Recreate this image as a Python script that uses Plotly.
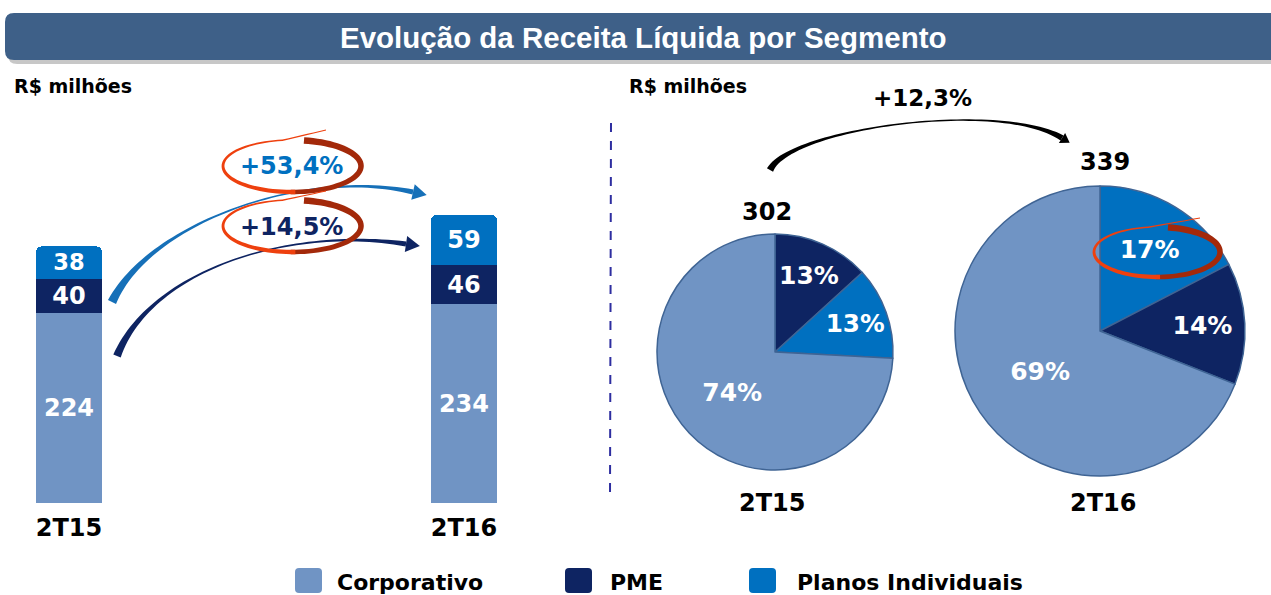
import math
import plotly.graph_objects as go

# ---------------- data ----------------
periods = ["2T15", "2T16"]
segments = ["Corporativo", "PME", "Planos Individuais"]
corporativo = [224, 234]
pme = [40, 46]
planos = [38, 59]
growth_planos = "+53,4%"
growth_pme = "+14,5%"
growth_total = "+12,3%"
pie_order = {
    "2T15": ["PME", "Planos Individuais", "Corporativo"],
    "2T16": ["Planos Individuais", "PME", "Corporativo"],
}
title_text = "Evolução da Receita Líquida por Segmento"
unit_label = "R$ milhões"

# ---------------- styles ----------------
W, H = 1271, 595
colors = {"Corporativo": "#7094C4", "PME": "#0E2462", "Planos Individuais": "#0070C0"}
DJ = "DejaVu Sans"
AR = "Liberation Sans, Arial, sans-serif"


def px(x):
    return x / W


def py(y):
    return 1 - y / H


def poly_path(pts):
    return "M " + " L ".join(f"{px(x):.5f},{py(y):.5f}" for x, y in pts) + " Z"


def bezier(p0, p1, p2, p3, n=60):
    pts = []
    for i in range(n + 1):
        t = i / n
        u = 1 - t
        x = u**3 * p0[0] + 3 * u * u * t * p1[0] + 3 * u * t * t * p2[0] + t**3 * p3[0]
        y = u**3 * p0[1] + 3 * u * u * t * p1[1] + 3 * u * t * t * p2[1] + t**3 * p3[1]
        pts.append((x, y))
    return pts


def stroke(pts, widths):
    left, right = [], []
    n = len(pts)
    for i, (x, y) in enumerate(pts):
        if i == 0:
            dx, dy = pts[1][0] - x, pts[1][1] - y
        elif i == n - 1:
            dx, dy = x - pts[i - 1][0], y - pts[i - 1][1]
        else:
            dx, dy = pts[i + 1][0] - pts[i - 1][0], pts[i + 1][1] - pts[i - 1][1]
        L = math.hypot(dx, dy) or 1
        nx, ny = -dy / L, dx / L
        w = widths[i] / 2
        left.append((x + nx * w, y + ny * w))
        right.append((x - nx * w, y - ny * w))
    return left + right[::-1]


def shape_poly(pts, color):
    return dict(type="path", path=poly_path(pts), fillcolor=color,
                line=dict(width=0), xref="paper", yref="paper", layer="above")


def curved_arrow(p0, p1, p2, p3, w0, wmid, w1, color, head_len=14, head_w=16):
    pts = bezier(p0, p1, p2, p3)
    n = len(pts) - 1
    widths = [wmid + (w0 - wmid) * (1 - i / n) ** 4 + (w1 - wmid) * (i / n) ** 6
              for i in range(n + 1)]
    shapes = [shape_poly(stroke(pts, widths), color)]
    dx, dy = p3[0] - p2[0], p3[1] - p2[1]
    L = math.hypot(dx, dy)
    dx, dy = dx / L, dy / L
    tip = (p3[0] + dx * head_len, p3[1] + dy * head_len)
    nx, ny = -dy, dx
    b1 = (p3[0] + nx * head_w / 2, p3[1] + ny * head_w / 2)
    b2 = (p3[0] - nx * head_w / 2, p3[1] - ny * head_w / 2)
    shapes.append(shape_poly([b1, tip, b2], color))
    return shapes


def swoosh_ellipse(cx, cy, rx, ry, tail):
    # clockwise loop from the top, then a thin tail going up-right
    a_start, a_end = -80, 262
    pts1, pts2 = [], []
    for k in range(0, 91):
        a = math.radians(a_start + (a_end - a_start) * k / 90)
        p = (cx + rx * math.cos(a), cy + ry * math.sin(a))
        if k <= 45:
            pts1.append(p)
        if k >= 44:
            pts2.append(p)
    last = pts2[-1]
    for k in range(1, 8):
        t = k / 7
        pts2.append((last[0] + (tail[0] - last[0]) * t, last[1] + (tail[1] - last[1]) * t))
    w1 = [6.5 - 2.0 * i / (len(pts1) - 1) for i in range(len(pts1))]
    w2 = [4.5 - 3.6 * i / (len(pts2) - 1) for i in range(len(pts2))]
    return [shape_poly(stroke(pts1, w1), "#A3290A"), shape_poly(stroke(pts2, w2), "#EE400E")]


def rrect(x0, y0, x1, y1, r):
    return (f"M {px(x0 + r)},{py(y0)} L {px(x1 - r)},{py(y0)} "
            f"Q {px(x1)},{py(y0)} {px(x1)},{py(y0 + r)} L {px(x1)},{py(y1 - r)} "
            f"Q {px(x1)},{py(y1)} {px(x1 - r)},{py(y1)} L {px(x0 + r)},{py(y1)} "
            f"Q {px(x0)},{py(y1)} {px(x0)},{py(y1 - r)} L {px(x0)},{py(y0 + r)} "
            f"Q {px(x0)},{py(y0)} {px(x0 + r)},{py(y0)} Z")


def label(text, x, y, size, color="black", family=DJ, xanchor="center"):
    return dict(text=text, x=px(x), y=py(y), xref="paper", yref="paper", showarrow=False,
                xanchor=xanchor, yanchor="middle",
                font=dict(family=family, size=size, color=color, weight="bold"))


fig = go.Figure()

# ---------------- stacked bars ----------------
series = {"Corporativo": corporativo, "PME": pme, "Planos Individuais": planos}
for name in segments:
    vals = series[name]
    fig.add_trace(go.Bar(
        x=periods, y=vals, name=name,
        marker=dict(color=colors[name], line=dict(width=0)),
        texttemplate="%{y}", textposition="inside", insidetextanchor="middle",
        constraintext="none", textangle=0,
        textfont=dict(family=DJ, size=24, color="white", weight="bold"),
        width=0.168, showlegend=False, xaxis="x", yaxis="y",
    ))

# ---------------- pies ----------------
pie_domains = {
    "2T15": dict(x=[px(657), px(893)], y=[py(470), py(234)]),
    "2T16": dict(x=[px(955), px(1245)], y=[py(476), py(186)]),
}
for i, per in enumerate(periods):
    order = pie_order[per]
    vals = [series[s][i] for s in order]
    fig.add_trace(go.Pie(
        labels=order, values=vals, sort=False, direction="clockwise", rotation=0,
        marker=dict(colors=[colors[s] for s in order], line=dict(color="#3F6494", width=1.5)),
        texttemplate="%{percent:.0%}", textposition="inside",
        insidetextorientation="horizontal",
        textfont=dict(family=DJ, size=25, color="white", weight="bold"),
        domain=pie_domains[per], showlegend=False, name=per,
    ))

shapes = []
annotations = []

# title banner
shapes.append(dict(type="path", path=rrect(8, 17, 1285, 64, 9), xref="paper", yref="paper",
                   fillcolor="rgba(0,0,0,0.22)", line=dict(width=0), layer="below"))
shapes.append(dict(type="path", path=rrect(5, 13, 1285, 60, 9), xref="paper", yref="paper",
                   fillcolor="#3E6088", line=dict(width=0), layer="below"))
annotations.append(label(title_text, 643, 37, 29.5, "white", AR))

# unit labels
for xl in (12, 627):
    annotations.append(label(unit_label, xl, 86, 19, xanchor="left"))

# divider
shapes.append(dict(type="line", x0=px(611), x1=px(610), y0=py(123), y1=py(498),
                   xref="paper", yref="paper", line=dict(color="#2E2EA0", width=2, dash="dash")))

# growth arrows on bar side
shapes += curved_arrow((112, 302), (150, 222), (305, 168), (413, 192), 9, 1.2, 5, "#1670B8")
shapes += curved_arrow((117, 356), (150, 272), (285, 226), (406, 244), 8, 1.2, 5, "#0E2462")
shapes += swoosh_ellipse(292, 166, 69, 26, (326, 130))
shapes += swoosh_ellipse(292, 226, 69, 26, (326, 191))
annotations.append(label(growth_planos, 291, 166, 24, "#0070C0"))
annotations.append(label(growth_pme, 291, 227, 24, "#0E2462"))

# total growth arrow between pies
shapes += curved_arrow((770, 170), (790, 128), (1000, 100), (1062, 138), 7, 1.0, 6, "#000000",
                       head_len=9, head_w=12)
annotations.append(label(growth_total, 922, 98, 23))

# 17% highlight
shapes += swoosh_ellipse(1157, 252, 63, 25, (1200, 218))

# totals and labels over/under pies
tot_pos = {"2T15": (767, 212), "2T16": (1105, 162)}
lab_pos = {"2T15": (772, 503), "2T16": (1103, 503)}
for i, per in enumerate(periods):
    total = sum(series[s][i] for s in segments)
    annotations.append(label(str(total), *tot_pos[per], 24))
    annotations.append(label(per, *lab_pos[per], 24))

# legend (manual, large rounded swatches)
leg = [("Corporativo", 295, 335), ("PME", 565, 608), ("Planos Individuais", 749, 795)]
for name, bx, tx in leg:
    shapes.append(dict(type="path", path=rrect(bx, 568, bx + 27, 593, 4), xref="paper", yref="paper",
                       fillcolor=colors[name], line=dict(width=0)))
    annotations.append(label(name, tx, 582, 22, xanchor="left"))

fig.update_layout(
    width=W, height=H,
    margin=dict(l=0, r=0, t=0, b=0),
    paper_bgcolor="white", plot_bgcolor="white",
    barmode="stack", barcornerradius=6,
    showlegend=False,
    xaxis=dict(domain=[0, 0.45], range=[-0.1747, 1.2734], showgrid=False, zeroline=False,
               showline=False, ticks="", ticklabelstandoff=8,
               tickfont=dict(family=DJ, size=24, color="black", weight="bold")),
    yaxis=dict(domain=[py(503), py(180)], range=[0, 380], visible=False),
    shapes=shapes,
    annotations=annotations,
)

fig.write_html(
    "out.html",
    config={"displayModeBar": False},
    post_script="document.body.style.margin='0';document.body.style.overflow='hidden';",
)
